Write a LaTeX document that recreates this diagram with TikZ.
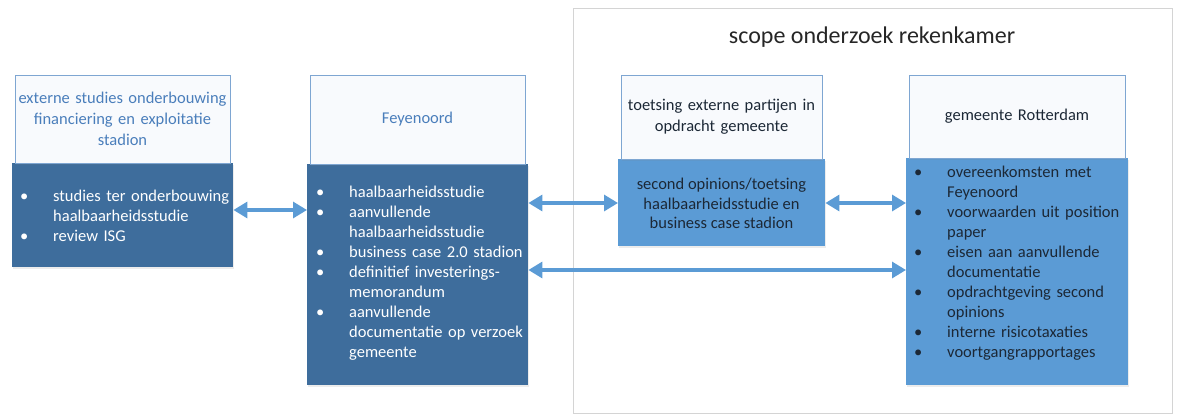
\documentclass[tikz,border=0pt]{standalone}
\usepackage{fontspec}
\setmainfont{Carlito}
\usetikzlibrary{arrows.meta,shadows}
\definecolor{darkbody}{HTML}{3E6D9C}
\definecolor{lightbody}{HTML}{5B9BD5}
\definecolor{hdrline}{HTML}{7EA6D2}
\definecolor{hdrfill}{HTML}{F8FAFD}
\definecolor{hdrblue}{HTML}{4A7EBB}
\definecolor{arrowblue}{HTML}{5B9BD5}
\definecolor{scopeline}{HTML}{D4D4D4}
\definecolor{darktext}{HTML}{1C2836}
\newcommand\bi{\makebox[34pt][l]{\hspace{1pt}\textbullet}}
\newcommand\ci{\hspace*{34pt}}
\tikzset{
  hdr/.style={draw=hdrline, line width=0.8pt, fill=hdrfill, inner sep=0pt, align=center,
    font=\fontsize{16.5}{21}\selectfont,
    drop shadow={shadow xshift=1pt, shadow yshift=-1.5pt, opacity=0.12}},
  bodybox/.style={inner sep=0pt, anchor=north west,
    drop shadow={shadow xshift=1pt, shadow yshift=-2pt, opacity=0.15}},
  bodytext/.style={inner sep=0pt, anchor=north west, align=left, text width=214pt,
    font=\fontsize{16.5}{20}\selectfont},
  arr/.style={draw=arrowblue, line width=3.2pt, {Triangle[length=14pt,width=16pt]}-{Triangle[length=14pt,width=16pt]}}
}
\begin{document}
\begin{tikzpicture}[x=1pt,y=-1pt]
\useasboundingbox (0,0) rectangle (1181,415);
% scope frame
\node[draw=scopeline, line width=0.8pt, minimum width=599pt, minimum height=405pt, anchor=north west, inner sep=0pt] (scope) at (573,8) {};
\node[font=\fontsize{24}{28}\selectfont, text=black!85] (title) at (872,37) {scope onderzoek rekenkamer};

% box 1
\node[bodybox, fill=darkbody, minimum width=221pt, minimum height=104pt] (b1) at (12,163) {};
\node[hdr, text=hdrblue, text width=215pt, minimum height=88pt] (h1) at (122.5,119) {externe studies onderbouwing\\financiering en exploitatie\\stadion};
\node[bodytext, text=white] (t1) at (19,190) {\bi studies ter onderbouwing\\\ci haalbaarheidsstudie\\\bi review ISG};

% box 2
\node[bodybox, fill=darkbody, minimum width=221pt, minimum height=221pt] (b2) at (307,164) {};
\node[hdr, text=hdrblue, text width=215pt, minimum height=89pt] (h2) at (417.5,119.5) {Feyenoord};
\node[bodytext, text=white] (t2) at (315,186) {\bi haalbaarheidsstudie\\\bi aanvullende\\\ci haalbaarheidsstudie\\\bi business case 2.0 stadion\\\bi definitief investerings-\\\ci memorandum\\\bi aanvullende\\\ci documentatie op verzoek\\\ci gemeente};

% box 3
\node[bodybox, fill=lightbody, minimum width=207pt, minimum height=87pt] (b3) at (618,159) {};
\node[hdr, text=darktext, text width=201pt, minimum height=84pt] (h3) at (721.5,117) {toetsing externe partijen in\\opdracht gemeente};
\node[inner sep=0pt, align=center, text=darktext, font=\fontsize{16.5}{19.5}\selectfont] (t3) at (721.5,203.5) {second opinions/toetsing\\haalbaarheidsstudie en\\business case stadion};

% box 4
\node[bodybox, fill=lightbody, minimum width=222pt, minimum height=227pt] (b4) at (906,158) {};
\node[hdr, text=darktext, text width=216pt, minimum height=83pt] (h4) at (1017,116.5) {gemeente Rotterdam};
\node[bodytext, text=darktext] (t4) at (913,165.5) {\bi overeenkomsten met\\\ci Feyenoord\\\bi voorwaarden uit position\\\ci paper\\\bi eisen aan aanvullende\\\ci documentatie\\\bi opdrachtgeving second\\\ci opinions\\\bi interne risicotaxaties\\\bi voortgangrapportages};

% arrows
\draw[arr] (b1.east |- 0,210) -- (b2.west |- 0,210);
\draw[arr] (b2.east |- 0,203) -- (b3.west |- 0,203);
\draw[arr] (b3.east |- 0,203) -- (b4.west |- 0,203);
\draw[arr] (b2.east |- 0,270) -- (b4.west |- 0,270);
\end{tikzpicture}
\end{document}
